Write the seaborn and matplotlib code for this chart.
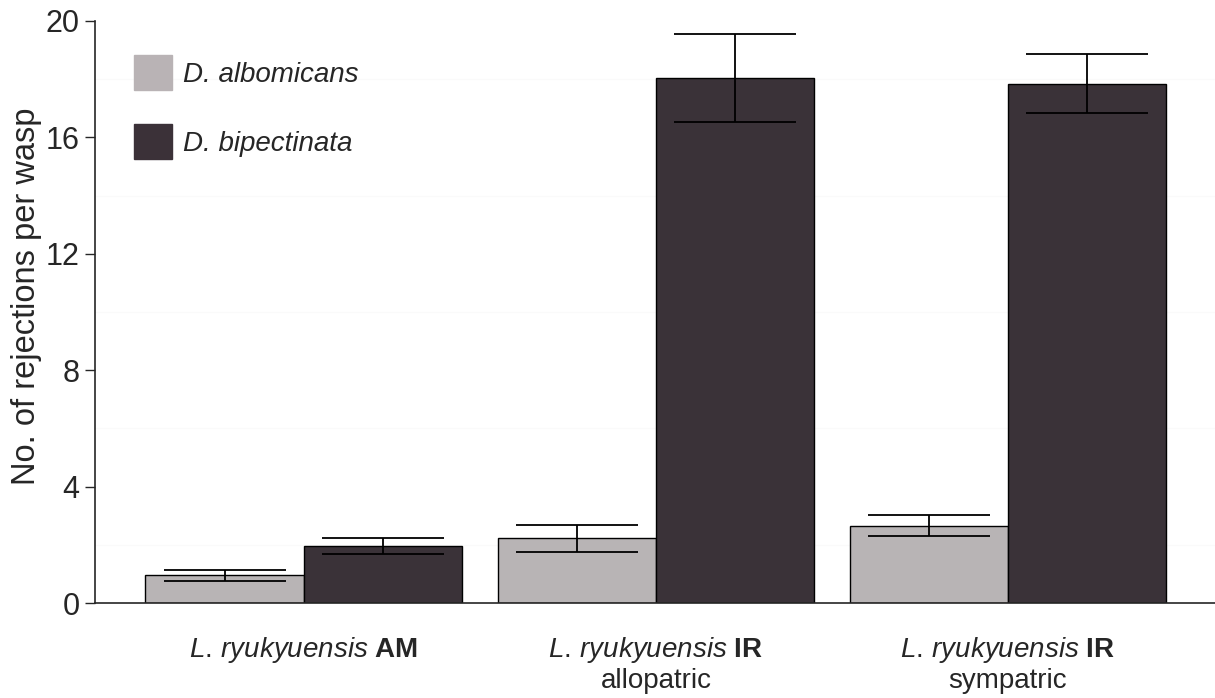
import matplotlib
matplotlib.use("Agg")
import matplotlib.pyplot as plt
import seaborn as sns
import pandas as pd
import numpy as np
from matplotlib.patches import Patch

# data
groups = [r"$\mathit{L.\!\ ryukyuensis}$ $\mathbf{AM}$",
          "$\\mathit{L.\\!\\ ryukyuensis}$ $\\mathbf{IR}$\nallopatric",
          "$\\mathit{L.\\!\\ ryukyuensis}$ $\\mathbf{IR}$\nsympatric"]
hosts = ["D. albomicans", "D. bipectinata"]
albomicans_mean = [0.96, 2.22, 2.66]
albomicans_err = [0.19, 0.45, 0.37]
bipectinata_mean = [1.96, 18.04, 17.85]
bipectinata_err = [0.29, 1.50, 1.02]
colors = ["#b9b3b5", "#3b3138"]

df = pd.DataFrame({
    "group": groups * 2,
    "host": [hosts[0]] * 3 + [hosts[1]] * 3,
    "mean": albomicans_mean + bipectinata_mean,
    "err": albomicans_err + bipectinata_err,
})

sns.set_style("ticks")
plt.rcParams['font.family'] = ['Liberation Sans', 'DejaVu Sans']
plt.rcParams['mathtext.fontset'] = 'custom'
plt.rcParams['mathtext.rm'] = 'Liberation Sans'
plt.rcParams['mathtext.it'] = 'Liberation Sans:italic'
plt.rcParams['mathtext.bf'] = 'Liberation Sans:bold'

fig = plt.figure(figsize=(12.15, 6.98), dpi=100)
ax = fig.add_axes([0.078, 0.136, 0.922, 0.834])

for y in [2, 6, 10, 14, 18]:
    ax.axhline(y, color="#fafafa", lw=1, zorder=0)

sns.barplot(data=df, x="group", y="mean", hue="host", palette=colors,
            errorbar=None, width=0.9, edgecolor="black", linewidth=1,
            ax=ax, legend=False, zorder=2)

# error bars on top of each bar
for i, h in enumerate(hosts):
    cont = ax.containers[i]
    sub = df[df["host"] == h]
    xs = [p.get_x() + p.get_width() / 2 for p in cont.patches]
    ax.errorbar(xs, sub["mean"].values, yerr=sub["err"].values, fmt="none",
                ecolor="black", elinewidth=1.3, capsize=44, capthick=1.3, zorder=3)

ax.set_ylim(0, 20)
ax.set_xlim(-0.594, 2.588)
ax.set_yticks([0, 4, 8, 12, 16, 20])
ax.tick_params(axis="y", labelsize=22, length=7, width=1, direction="out", pad=4)
ax.tick_params(axis="x", labelsize=20, length=0, pad=23)
for lab in ax.get_xticklabels():
    lab.set_linespacing(1.15)
ax.set_xlabel("")
ax.set_ylabel("No. of rejections per wasp", fontsize=23.5)
ax.yaxis.set_label_coords(-0.047, 0.527)
sns.despine(ax=ax)
for s in ["left", "bottom"]:
    ax.spines[s].set_linewidth(1.2)

handles = [Patch(facecolor=c, edgecolor=c) for c in colors]
leg = ax.legend(handles, hosts, loc="upper left", bbox_to_anchor=(0.013, 0.985),
                frameon=False, fontsize=20, handlelength=1.35, handleheight=1.6,
                labelspacing=1.2, handletextpad=0.4)
for t in leg.get_texts():
    t.set_fontstyle("italic")

fig.savefig("out.png", dpi=100)
